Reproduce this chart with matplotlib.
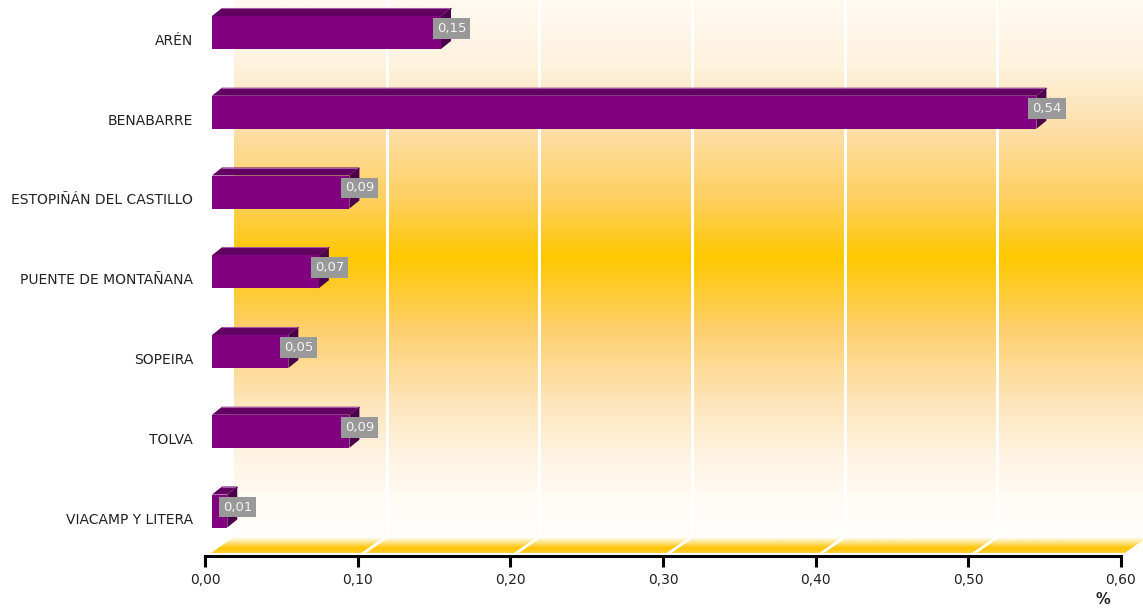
import numpy as np
import matplotlib.pyplot as plt
import matplotlib.transforms as mtransforms
from matplotlib.patches import Polygon
from matplotlib.colors import LinearSegmentedColormap

# data
municipios = ['ARÉN', 'BENABARRE', 'ESTOPIÑÁN DEL CASTILLO', 'PUENTE DE MONTAÑANA',
              'SOPEIRA', 'TOLVA', 'VIACAMP Y LITERA']
valores = [0.15, 0.54, 0.09, 0.07, 0.05, 0.09, 0.01]
etiquetas = ['0,15', '0,54', '0,09', '0,07', '0,05', '0,09', '0,01']
xticks = [0.0, 0.1, 0.2, 0.3, 0.4, 0.5, 0.6]
xtick_labels = ['0,00', '0,10', '0,20', '0,30', '0,40', '0,50', '0,60']

W, H = 1143, 609
fig = plt.figure(figsize=[W / 100, H / 100], dpi=100)

# pixel scales of the chart
kx = 916 / 0.6      # px per unit of value
ky = 79.75          # px per category
ax = fig.add_axes([205 / W, (H - 556) / H, (W - 205) / W, 556 / H])
xmax = (W - 205) / kx
ax.set_xlim(0, xmax)
ax.set_ylim(-45 / ky, 511 / ky)

n = len(municipios)
ypos = np.arange(n)[::-1]

# back wall gradient (bottom -> top)
floor_top = -26 / ky
floor_bot = -42 / ky
wall_dx = 29 / kx
wall_cmap = LinearSegmentedColormap.from_list(
    'wall', [(0.0, '#fffefc'), (0.07, '#fffbf5'), (0.15, '#fff3e3'),
             (0.26, '#fee4b6'), (0.39, '#fdcf6a'), (0.52, '#ffc800'),
             (0.63, '#fed060'), (0.76, '#fddfa8'), (0.88, '#fff2de'),
             (1.0, '#fffaf2')])
grad = np.linspace(0, 1, 512).reshape(-1, 1)
ax.imshow(grad, cmap=wall_cmap, aspect='auto', origin='lower',
          extent=[wall_dx, xmax + 0.05, floor_top, 511 / ky], zorder=0)

for t in xticks[1:]:
    ax.plot([t + wall_dx, t + wall_dx], [floor_top, 511 / ky], color='white',
            lw=2.2, zorder=1, solid_capstyle='butt')

# floor
fl_dx0 = 6 / kx
floor_poly = Polygon([(fl_dx0, floor_bot), (0.6 + fl_dx0, floor_bot),
                      (0.6 + wall_dx, floor_top), (wall_dx, floor_top)],
                     closed=True, fc='none', ec='none')
ax.add_patch(floor_poly)
floor_cmap = LinearSegmentedColormap.from_list(
    'floor', [(0, '#ffd040'), (0.3, '#ffc400'), (1.0, '#ffffff')])
im = ax.imshow(grad, cmap=floor_cmap, aspect='auto', origin='lower',
               extent=[0, xmax + 0.05, floor_bot, floor_top], zorder=1)
im.set_clip_path(floor_poly)
for t in xticks[1:]:
    ax.plot([t + fl_dx0, t + wall_dx], [floor_bot, floor_top], color='white',
            lw=2.0, zorder=2)

# 3D bars
shift = 7 / kx
half = 16.5 / ky
ddx = 10 / kx
ddy = 8 / ky
for y, v, lab in zip(ypos, valores, etiquetas):
    L, R = shift, v + shift
    yb, yt = y - half, y + half
    ax.add_patch(Polygon([(L, yt), (R, yt), (R + ddx, yt + ddy), (L + ddx, yt + ddy)],
                         fc='#620062', ec='none', zorder=3))
    ax.plot([L + ddx, R + ddx], [yt + ddy, yt + ddy], color='#a35aa3', lw=0.8, zorder=3)
    ax.add_patch(Polygon([(R, yb), (R, yt), (R + ddx, yt + ddy), (R + ddx, yb + ddy)],
                         fc='#4a004a', ec='none', zorder=3))
    ax.add_patch(Polygon([(L, yb), (R, yb), (R, yt), (L, yt)],
                         fc='#800080', ec='none', zorder=4))
    ax.text(v + 17.5 / kx, y + 4 / ky, lab, ha='center', va='center',
            fontsize=9.5, color='#f4f4f4', zorder=5,
            bbox=dict(boxstyle='square,pad=0.3', fc='#999999', ec='none'))

# axes styling
for s in ['top', 'right', 'left']:
    ax.spines[s].set_visible(False)
ax.spines['bottom'].set_linewidth(2.2)
ax.spines['bottom'].set_bounds(0, 0.6)
ax.spines['bottom'].set_zorder(6)
ax.set_xticks(xticks)
ax.set_xticklabels(xtick_labels, fontsize=10, color='#222222')
ax.tick_params(axis='x', length=8, width=2.2, pad=4)
ax.set_yticks(ypos)
ax.set_yticklabels(municipios, fontsize=10, color='#222222')
ax.tick_params(axis='y', length=0, pad=8.5)
off = mtransforms.ScaledTranslation(0, -7 / 100, fig.dpi_scale_trans)
for lbl in ax.get_yticklabels():
    lbl.set_transform(lbl.get_transform() + off)

fig.text(1103 / W, 1 - 600 / H, '%', ha='center', va='center',
         fontsize=10.5, fontweight='bold', color='#222222')

fig.savefig('out.png', dpi=100)
